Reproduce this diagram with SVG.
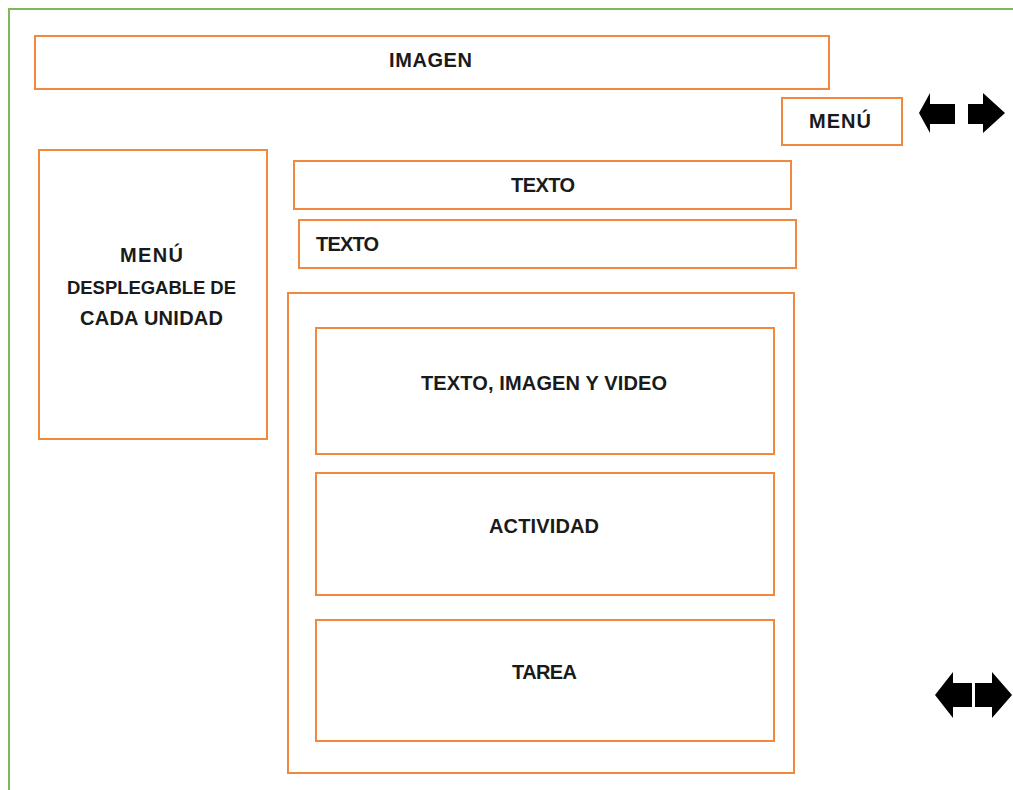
<svg xmlns="http://www.w3.org/2000/svg" width="1013" height="790" viewBox="0 0 1013 790">
<style>
.box{fill:#fff;stroke:#F0883E;stroke-width:2}
.t{font-family:"Liberation Sans",Arial,sans-serif;font-weight:bold;font-size:20px;fill:#1a1a1a;text-anchor:middle;dominant-baseline:central}
.arr{fill:#000}
</style>
<rect width="1013" height="790" fill="#fff"/>
<path d="M9,790 V9 H1013" fill="none" stroke="#7DB85A" stroke-width="2"/>
<g id="imagen"><rect class="box" x="35" y="36" width="794" height="53"/><text class="t" x="430.5" y="60" textLength="83">IMAGEN</text></g>
<g id="menu-top"><rect class="box" x="782" y="98" width="120" height="47"/><text class="t" x="840" y="121" textLength="62">MENÚ</text></g>
<g id="menu-desplegable"><rect class="box" x="39" y="150" width="228" height="289"/>
<text class="t" x="151.5" y="255" textLength="63">MENÚ</text><text class="t" x="151.5" y="287" style="font-size:18.5px" textLength="169">DESPLEGABLE DE</text><text class="t" x="151.5" y="318" textLength="143">CADA UNIDAD</text></g>
<g id="texto1"><rect class="box" x="294" y="161" width="497" height="48"/><text class="t" x="543" y="185" textLength="64">TEXTO</text></g>
<g id="texto2"><rect class="box" x="299" y="220" width="497" height="48"/><text class="t" x="316" y="244" style="text-anchor:start" textLength="63">TEXTO</text></g>
<g id="contenedor"><rect class="box" x="288" y="293" width="506" height="480"/></g>
<g id="texto-imagen-video"><rect class="box" x="316" y="328" width="458" height="126"/><text class="t" x="544" y="383" textLength="246">TEXTO, IMAGEN Y VIDEO</text></g>
<g id="actividad"><rect class="box" x="316" y="473" width="458" height="122"/><text class="t" x="544" y="526" textLength="110">ACTIVIDAD</text></g>
<g id="tarea"><rect class="box" x="316" y="620" width="458" height="121"/><text class="t" x="544.5" y="672" textLength="65">TAREA</text></g>
<g id="flechas-arriba">
<polygon class="arr" points="919,113 930,93 930,104 955,104 955,124 930,124 930,133"/>
<polygon class="arr" points="1005,113 983,93 983,104 968,104 968,124 983,124 983,133"/>
</g>
<g id="flechas-abajo">
<polygon class="arr" points="935,695 953,672 953,683 972,683 972,707 953,707 953,718"/>
<polygon class="arr" points="1012,695 992,672 992,683 975,683 975,707 992,707 992,718"/>
</g>
</svg>
